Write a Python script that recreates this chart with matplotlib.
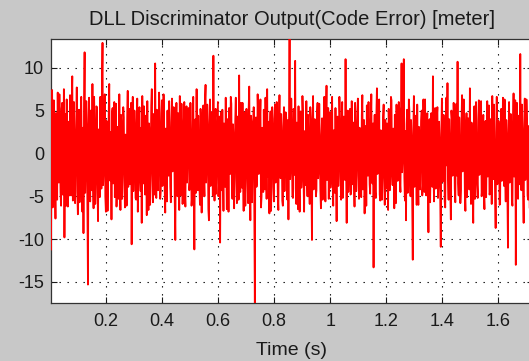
import numpy as np
import matplotlib
matplotlib.use("Agg")
import matplotlib.pyplot as plt

# Sampling of the discriminator output
t_start = 0.003          # s, first sample
dt = 0.002               # s, sample interval

# Code error samples [meter]
code_error = [
    -11.2, 3.6, 7.4, -6.3, -2.1, 6.2, 4.3, -3.0, -7.6, 4.7, 1.2, -5.4, 7.1, -1.3, -3.4, 6.9, 0.8, -4.6, -6.1, 5.2,
    5.9, -4.8, -1.7, 7.5, -9.8, 1.6, 4.6, -6.1, 6.3, -2.3, -6.2, 3.7, 0.4, -4.9, 6.8, -1.0, -4.9, 5.8, 9.0, -5.5,
    -5.3, 6.0, 1.9, -5.8, -0.6, 2.7, 7.7, -4.5, -7.1, 2.1, 5.1, -5.7, -2.4, 4.4, 6.6, -1.2, -6.8, 3.0, -9.3, 5.1,
    11.8, -4.6, -1.3, 6.1, 2.8, -6.0, -15.3, 3.3, 6.5, -2.0, -5.6, 5.0, 0.9, -4.3, 8.1, -2.8, -6.4, 6.6, 2.2, -5.9,
    -2.7, 5.5, 5.4, -4.0, -7.9, 2.8, 1.5, -5.1, 6.6, -0.8, -4.1, 7.9, 12.9, -3.7, -1.8, 2.4, 6.9, -5.0, -6.8, 3.8,
    2.4, -6.7, -0.9, 4.3, 8.1, -1.6, -3.2, 2.5, -7.7, 4.8, 5.3, -3.5, 0.2, 6.0, -5.1, 1.9, 5.8, -6.2, -2.5, 3.1,
    1.1, -5.3, 6.9, -2.2, -6.6, 4.5, 2.7, -5.3, -1.4, 5.4, 4.2, -2.7, -6.3, 2.2, 0.7, -6.1, 3.8, 7.3, -3.9, 1.7,
    5.2, -3.6, -2.2, 5.9, -10.6, 1.5, 6.6, -4.4, -0.3, 5.0, 2.9, -5.2, -5.4, 2.6, 6.4, -6.8, -1.9, 4.2, 5.4, -2.9,
    -4.4, 3.0, -8.1, 6.7, 1.8, -3.5, 5.5, -1.7, -4.8, 4.4, 0.5, -7.2, 6.1, -2.4, -6.6, 3.5, 2.1, -6.0, -1.1, 5.6,
    7.5, -2.5, -5.7, 4.6, 1.4, -4.8, 10.5, -1.1, -5.2, 5.1, 2.5, -4.3, -0.8, 7.1, 4.7, -5.3, -4.3, 2.4, 6.2, -3.8,
    -1.6, 6.9, 3.0, -4.2, -6.9, 2.9, 0.3, -5.6, 5.0, -1.8, -2.6, 6.1, 1.7, -3.9, -5.7, 3.6, 6.4, -2.1, -0.4, 5.4,
    2.3, -5.5, -10.1, 2.0, 5.9, -2.7, -5.0, 4.7, 0.6, -6.6, 6.7, -1.4, -4.9, 5.8, 1.3, -5.9, -2.0, 3.3, 6.0, -4.5,
    -6.2, 2.6, 5.5, -3.4, -0.1, 4.5, 5.3, -4.3, -3.3, 5.9, 1.0, -6.1, -5.0, 2.2, 6.6, -3.0, -11.2, 1.4, 4.0, -4.6,
    7.5, -3.1, -4.3, 4.4, 0.1, -3.7, -6.0, 5.2, 3.7, -6.9, -1.5, 2.8, 5.6, -2.6, -5.0, 6.2, 8.0, -3.4, -0.7, 5.7,
    2.6, -6.5, -7.8, 3.6, 6.3, -3.8, -2.1, 4.8, 0.9, -4.9, 11.4, -1.5, -5.5, 4.1, 5.2, -4.7, -1.0, 2.9, 6.0, -5.0,
    -3.5, 4.3, -10.4, 1.8, 4.8, -4.3, 5.1, -2.2, -6.7, 3.5, 0.0, -3.9, 6.5, -1.3, -6.5, 4.0, 1.6, -6.8, 5.3, -2.1,
    -2.4, 6.6, 5.8, -3.6, -5.3, 3.4, 1.2, -6.4, -0.5, 3.8, 6.5, -2.9, -5.8, 4.3, 2.4, -5.4, 9.1, -2.0, -4.5, 5.9,
    0.8, -4.0, 5.9, -2.5, -6.7, 2.3, 4.8, -6.1, -1.2, 5.2, 2.0, -3.0, -5.8, 5.3, 7.8, -1.9, -7.8, 4.4, 3.6, -5.7,
    -0.2, 3.1, 5.4, -6.6, -17.45, 2.7, 4.2, -3.9, -3.1, 6.9, 4.0, -2.4, -1.7, 3.6, 6.3, -6.3, -5.0, 3.0, 0.5, -4.5,
    5.1, -2.8, -4.2, 6.5, 1.5, -5.3, 7.5, -2.1, -2.7, 3.7, -7.0, 2.4, 4.9, -6.7, -0.6, 5.4, 2.7, -3.9, -5.6, 4.1,
    5.7, -3.4, -1.9, 6.0, 0.4, -5.0, -6.6, 2.8, 6.8, -1.7, -2.9, 4.6, 1.9, -5.5, -6.1, 3.1, 5.4, -4.4, -0.3, 4.8,
    4.2, -2.2, -5.4, 3.9, -7.7, 2.5, 13.35, -3.0, -1.4, 6.4, 2.6, -4.9, -5.2, 5.2, 5.0, -2.5, 10.8, -4.1, -5.9, 3.6,
    1.0, -6.5, 5.5, -1.9, -6.8, 3.8, 4.9, -4.0, -2.2, 6.7, 4.4, -3.3, -6.8, 2.6, 0.6, -3.7, 6.1, -2.4, -5.0, 4.5,
    1.8, -3.5, -5.9, 5.4, 3.8, -2.6, -10.1, 2.9, 6.7, -4.2, -0.9, 4.0, 2.1, -5.0, -4.3, 4.5, 5.9, -2.9, -1.6, 5.8,
    0.3, -4.3, -6.4, 2.2, 4.1, -5.4, -2.5, 3.6, 6.6, -2.0, -5.6, 4.2, 7.9, -3.1, -0.1, 5.3, -5.3, 2.0, 4.8, -4.0,
    -1.8, 4.1, 6.6, -3.5, -6.1, 2.7, 1.4, -4.6, 5.3, -1.4, -7.9, 3.1, 4.3, -3.8, -0.8, 6.6, 3.9, -2.7, -5.4, 2.9,
    6.0, -5.2, -2.0, 4.3, 1.1, -3.1, 11.0, -1.9, -8.1, 2.4, 5.0, -4.5, -1.3, 3.5, 5.2, -4.8, -4.4, 6.1, 0.7, -3.6,
    3.6, -2.3, -6.2, 5.9, 2.0, -4.4, -1.0, 4.8, 6.4, -2.6, -5.3, 3.0, 1.6, -3.7, -5.1, 4.5, 6.8, -4.2, -0.5, 3.9,
    -7.0, 2.0, 3.2, -6.1, 5.6, -1.5, -2.6, 6.0, 0.9, -3.6, -4.7, 3.3, 6.9, -2.7, -3.5, 3.5, -13.3, 1.9, 4.5, -4.5,
    -5.2, 4.4, 7.6, -2.4, -0.7, 3.6, 6.3, -4.8, -5.5, 2.7, 1.7, -5.4, -2.8, 4.2, 5.7, -2.0, -6.0, 3.9, 0.2, -4.1,
    3.5, -3.0, -6.6, 5.2, 2.4, -4.3, -1.1, 6.6, 6.2, -2.5, -3.7, 2.9, 0.8, -6.4, 4.5, -1.6, -5.8, 5.7, 1.3, -3.2,
    -2.3, 6.0, 5.1, -3.3, -4.5, 3.5, 10.5, -2.2, -0.6, 4.1, 11.0, -2.8, -5.5, 2.6, -7.8, 3.4, 5.1, -4.6, -1.9, 6.3,
    4.9, -2.7, -5.0, 3.9, 1.5, -5.4, -12.4, 2.3, 6.7, -3.9, -2.4, 4.4, 0.0, -6.0, 5.7, -2.5, -6.0, 3.1, 2.2, -4.2,
    -0.4, 3.8, 5.0, -4.9, -3.8, 6.3, 1.9, -4.5, 6.3, -1.8, -4.9, 3.2, 4.7, -3.5, -9.2, 2.6, 4.0, -5.7, -1.2, 4.7,
    0.6, -3.9, 9.0, -2.3, -5.6, 3.0, 5.3, -4.1, -2.1, 4.2, 5.4, -5.2, -3.1, 3.7, 1.2, -4.4, -10.9, 2.2, 6.4, -3.3,
    -0.9, 4.5, 2.6, -5.6, -6.3, 3.3, 6.5, -1.4, 8.2, -2.9, -5.4, 4.0, 1.0, -4.3, -7.7, 5.0, 4.1, -2.6, -1.7, 5.9,
    3.0, -4.1, -5.7, 2.8, 5.8, -2.6, 10.7, -3.5, -4.9, 4.2, 0.5, -5.8, -4.2, 3.5, 6.8, -2.1, -1.4, 6.3, 2.9, -4.6,
    -6.7, 2.9, 4.7, -5.1, -0.8, 4.1, 2.1, -4.2, 7.6, -2.4, -5.9, 3.6, 1.4, -4.5, -8.1, 2.7, 5.5, -5.3, -2.3, 6.0,
    0.1, -3.7, -5.2, 3.8, 6.2, -2.5, -1.0, 4.4, 6.1, -5.0, -4.1, 2.8, 4.5, -4.8, -6.5, 3.4, 3.8, -5.1, 0.4, 6.1,
    -2.7, 3.3, 5.6, -4.8, -4.6, 4.0, 1.8, -5.9, 6.7, -1.5, -3.0, 5.7, -0.2, -4.3, -8.7, 2.5, 6.6, -3.6, -1.5, 3.8,
    2.7, -6.0, -5.9, 3.5, 5.2, -3.2, -2.4, 6.5, 0.7, -3.8, 6.3, -2.2, -5.6, 3.9, 1.6, -4.7, -11.0, 2.1, 6.0, -3.4,
    -0.6, 4.6, 3.4, -5.5, -6.1, 3.1, 7.0, -2.7, -2.0, 6.2, -13.0, 2.4, 5.9, -2.3, -5.3, 4.4, 1.1, -3.6, 11.6, -2.5,
    -4.3, 5.7, 2.3, -4.0, -8.1, 2.6, 6.4, -3.1, -1.8, 6.3, 3.6, -4.9, -5.4, 3.2, 0.9, -6.4, 4.9, -2.2, -5.1, 3.5, 2.0,
]

x_ticks = [0.2, 0.4, 0.6, 0.8, 1.0, 1.2, 1.4, 1.6]
x_tick_labels = ["0.2", "0.4", "0.6", "0.8", "1", "1.2", "1.4", "1.6"]
y_ticks = [-15, -10, -5, 0, 5, 10]
y_tick_labels = ["-15", "-10", "-5", "0", "5", "10"]

title = "DLL Discriminator Output(Code Error) [meter]"
xlabel = "Time (s)"

y = np.array(code_error)
t = t_start + dt * np.arange(len(y))

plt.rcParams["font.family"] = ["Liberation Sans", "DejaVu Sans"]

W, H = 529, 361
fig = plt.figure(figsize=(W / 100, H / 100), dpi=100, facecolor="#c8c8c8")
ax_left, ax_bottom, ax_top = 51, 303, 39
px_per_s = 280.0
ax_w = (t[-1] - t[0]) * px_per_s
ax = fig.add_axes([ax_left / W, (H - ax_bottom) / H, ax_w / W, (ax_bottom - ax_top) / H])
ax.set_facecolor("white")

ax.plot(t, y, color="#ff0000", lw=1.3, zorder=3)

ax.set_xlim(t[0], t[-1])
ax.set_ylim(min(code_error), max(code_error))
ax.set_xticks(x_ticks)
ax.set_xticklabels(x_tick_labels)
ax.set_yticks(y_ticks)
ax.set_yticklabels(y_tick_labels)

ax.set_axisbelow(True)
ax.grid(True, color="black", linestyle=(0, (1.2, 6)), lw=0.8)

ax.tick_params(direction="in", length=4, width=0.8, top=True, right=True,
               labelsize=13, colors="#1a1a1a", pad=7)
ax.tick_params(axis="y", pad=5)
for s in ax.spines.values():
    s.set_color("#333333")
    s.set_linewidth(0.9)

ax.set_title(title, fontsize=14.5, color="#1a1a1a", pad=10)
ax.set_xlabel(xlabel, fontsize=14, color="#1a1a1a", labelpad=9)

fig.savefig("out.png", dpi=100, facecolor=fig.get_facecolor())
